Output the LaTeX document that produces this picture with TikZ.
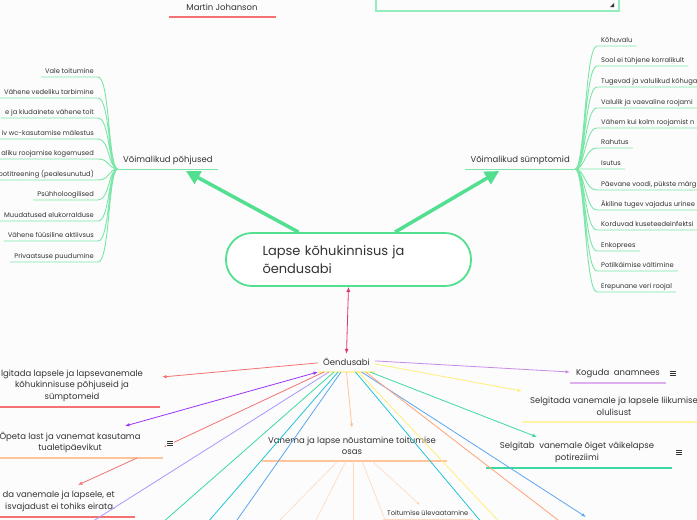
\documentclass[tikz,border=0pt]{standalone}
\usepackage{fontspec}
\setmainfont{Poppins}
\usepackage{tikz}
\usetikzlibrary{positioning}
\usetikzlibrary{arrows.meta}
\definecolor{bg}{HTML}{FCFCFC}
\definecolor{txt}{HTML}{333333}
\definecolor{mmgreen}{HTML}{52DF8F}
\definecolor{leafgreen}{HTML}{7BE6A8}
\definecolor{boxgreen}{HTML}{94EDBE}
\definecolor{crimson}{HTML}{E0336B}
\definecolor{salmon}{HTML}{F47272}
\definecolor{purple}{HTML}{9A35F5}
\definecolor{lilac}{HTML}{C98BEA}
\definecolor{lilacul}{HTML}{DDB0F2}
\definecolor{lavender}{HTML}{A898FF}
\definecolor{teal}{HTML}{3DD9A0}
\definecolor{cyan}{HTML}{22C4D6}
\definecolor{blue}{HTML}{5AA6F2}
\definecolor{yellowl}{HTML}{FFEF7A}
\definecolor{yellowul}{HTML}{FFF3A8}
\definecolor{orange}{HTML}{FFA477}
\definecolor{peach}{HTML}{FFC49A}
\definecolor{peachlight}{HTML}{FFD8BE}
\tikzset{%
  leaf/.style = {inner xsep=4pt,inner ysep=2pt,text depth=1.5pt,
        text=txt,font=\fontsize{6.7}{8}\selectfont},
  hub/.style = {inner xsep=5pt,inner ysep=4pt,text depth=2.5pt,
        text=txt,font=\fontsize{8.5}{11}\selectfont},
  topic/.style = {inner sep=0pt,align=center,text=txt,
        font=\fontsize{8.5}{11.5}\selectfont},
  leafline/.style = {draw=leafgreen,line width=0.9pt},
  bigarrow/.style = {-{Triangle[length=14pt,width=14pt]},draw=mmgreen,
        line width=3.5pt},
  conn/.style = {-{Latex[length=4.5pt,width=3.5pt]},line width=0.8pt},
  bare/.style = {line width=0.8pt},
  ul/.style = {line width=1.2pt},
  fan/.style = {draw=peachlight,line width=0.6pt},
  menuicon/.pic = {\fill[bg] (-4,-4) rectangle (4,4);
        \draw[line width=0.6pt,draw=txt] (-3,-2.2) -- (3,-2.2)
        (-3,0) -- (3,0) (-3,2.2) -- (3,2.2);}
}
\begin{document}
\begin{tikzpicture}[x=1pt,y=-1pt]
    \useasboundingbox (0,0) rectangle (697,520);
    \fill[bg] (0,0) rectangle (697,520);
    \clip (0,0) rectangle (697,520);

    % top
    \node[topic] (mj) at (222,7.5) {Martin Johanson};
    \draw[ul,draw=salmon] (169,17) -- (276,17);
    \draw[draw=boxgreen,line width=1.3pt] (376,-5) rectangle (619,11);
    \fill[txt] (614,3) -- (614,7) -- (610,7) -- cycle;

    % main topic
    \node[draw=mmgreen,line width=1.8pt,fill=white,rounded corners=26pt,
        minimum height=53pt,text width=172pt,inner xsep=36.5pt,align=left,
        text=txt,font=\fontsize{13}{18}\selectfont] (c) at (348.5,259.5)
        {Lapse kõhukinnisus ja\\õendusabi};

    % causes
    \node[hub,anchor=south west] (pohj) at (118,169) {Võimalikud põhjused};
    \draw[leafline] (pohj.south west) -- (pohj.south east);
    \draw[bigarrow] ([xshift=-50pt]c.north) -- ([xshift=18pt,yshift=-2pt]pohj.south);
    \node[leaf,anchor=south east] (p1) at (98,77) {Vale toitumine};
    \node[leaf,anchor=south east] (p2) at (98,98) {Vähene vedeliku tarbimine};
    \node[leaf,anchor=south east] (p3) at (98,118) {e ja kiudainete vähene toit};
    \node[leaf,anchor=south east] (p4) at (98,139) {iv wc-kasutamise mälestus};
    \node[leaf,anchor=south east] (p5) at (98,159) {aliku roojamise kogemused};
    \node[leaf,anchor=south east] (p6) at (98,180) {potitreening (pealesunutud)};
    \node[leaf,anchor=south east] (p7) at (98,200) {Psühholoogilised};
    \node[leaf,anchor=south east] (p8) at (98,221) {Muudatused elukorralduse};
    \node[leaf,anchor=south east] (p9) at (98,241) {Vähene füüsiline aktiivsus};
    \node[leaf,anchor=south east] (p10) at (98,262) {Privaatsuse puudumine};
    \draw[leafline]
        (pohj.south west) .. controls +(-10,0) and +(12,0) .. (p1.south east) -- (p1.south west)
        (pohj.south west) .. controls +(-10,0) and +(12,0) .. (p2.south east) -- (p2.south west)
        (pohj.south west) .. controls +(-10,0) and +(12,0) .. (p3.south east) -- (p3.south west)
        (pohj.south west) .. controls +(-10,0) and +(12,0) .. (p4.south east) -- (p4.south west)
        (pohj.south west) .. controls +(-10,0) and +(12,0) .. (p5.south east) -- (p5.south west)
        (pohj.south west) .. controls +(-10,0) and +(12,0) .. (p6.south east) -- (p6.south west)
        (pohj.south west) .. controls +(-10,0) and +(12,0) .. (p7.south east) -- (p7.south west)
        (pohj.south west) .. controls +(-10,0) and +(12,0) .. (p8.south east) -- (p8.south west)
        (pohj.south west) .. controls +(-10,0) and +(12,0) .. (p9.south east) -- (p9.south west)
        (pohj.south west) .. controls +(-10,0) and +(12,0) .. (p10.south east) -- (p10.south west);

    % symptoms
    \node[hub,anchor=south east] (symp) at (575,169) {Võimalikud sümptomid};
    \draw[leafline] (symp.south west) -- (symp.south east);
    \draw[bigarrow] ([xshift=46.5pt]c.north) -- ([xshift=-21pt,yshift=-2pt]symp.south);
    \node[leaf,anchor=south west] (s1) at (597,46) {Kõhuvalu};
    \node[leaf,anchor=south west] (s2) at (597,66) {Sool ei tühjene korralikult};
    \node[leaf,anchor=south west] (s3) at (597,87) {Tugevad ja valulikud kõhuga};
    \node[leaf,anchor=south west] (s4) at (597,108) {Valulik ja vaevaline roojami};
    \node[leaf,anchor=south west] (s5) at (597,128) {Vähem kui kolm roojamist n};
    \node[leaf,anchor=south west] (s6) at (597,148) {Rahutus};
    \node[leaf,anchor=south west] (s7) at (597,169) {Isutus};
    \node[leaf,anchor=south west] (s8) at (597,190) {Päevane voodi, pükste märg};
    \node[leaf,anchor=south west] (s9) at (597,210) {Äkiline tugev vajadus urinee};
    \node[leaf,anchor=south west] (s10) at (597,230) {Korduvad kuseteedeinfektsi};
    \node[leaf,anchor=south west] (s11) at (597,251) {Enkoprees};
    \node[leaf,anchor=south west] (s12) at (597,271) {Potilkäimise vältimine};
    \node[leaf,anchor=south west] (s13) at (597,292) {Erepunane veri roojal};
    \draw[leafline]
        (symp.south east) .. controls +(10,0) and +(-12,0) .. (s1.south west) -- (s1.south east)
        (symp.south east) .. controls +(10,0) and +(-12,0) .. (s2.south west) -- (s2.south east)
        (symp.south east) .. controls +(10,0) and +(-12,0) .. (s3.south west) -- (s3.south east)
        (symp.south east) .. controls +(10,0) and +(-12,0) .. (s4.south west) -- (s4.south east)
        (symp.south east) .. controls +(10,0) and +(-12,0) .. (s5.south west) -- (s5.south east)
        (symp.south east) .. controls +(10,0) and +(-12,0) .. (s6.south west) -- (s6.south east)
        (symp.south east) .. controls +(10,0) and +(-12,0) .. (s7.south west) -- (s7.south east)
        (symp.south east) .. controls +(10,0) and +(-12,0) .. (s8.south west) -- (s8.south east)
        (symp.south east) .. controls +(10,0) and +(-12,0) .. (s9.south west) -- (s9.south east)
        (symp.south east) .. controls +(10,0) and +(-12,0) .. (s10.south west) -- (s10.south east)
        (symp.south east) .. controls +(10,0) and +(-12,0) .. (s11.south west) -- (s11.south east)
        (symp.south east) .. controls +(10,0) and +(-12,0) .. (s12.south west) -- (s12.south east)
        (symp.south east) .. controls +(10,0) and +(-12,0) .. (s13.south west) -- (s13.south east);

    % nursing care
    \node[hub,anchor=south] (oe) at (346.5,372) {Õendusabi};
    \draw[ul,draw=yellowul] (oe.south west) -- (oe.south east);
    \draw[{Latex[length=5pt,width=4pt]}-{Latex[length=5pt,width=4pt]},
        draw=crimson,line width=0.8pt] (oe.north) -- (c.south);

    \node[topic] (sel1) at (72,385.5)
        {lgitada lapsele ja lapsevanemale\\kõhukinnisuse põhjuseid ja\\sümptomeid};
    \draw[ul,draw=salmon] (0,407) -- (160,407);
    \node[topic] (opeta) at (70,442.5)
        {Õpeta last ja vanemat kasutama\\tualetipäevikut};
    \draw[ul,draw=peach] (0,458) -- (163,458);
    \node[topic,anchor=east,align=right] (sel3) at (115,501.5)
        {da vanemale ja lapsele, et\\isvajadust ei tohiks eirata.};
    \draw[ul,draw=salmon] (0,517) -- (135,517);

    \node[topic] (kog) at (618,373) {Koguda~~anamnees};
    \draw[ul,draw=lilacul] (570,383) -- (666,383);
    \node[topic] (sel2) at (614,406.5)
        {Selgitada vanemale ja lapsele liikumise\\olulisust};
    \draw[ul,draw=yellowul] (522,422) -- (697,422);
    \node[topic] (selb) at (577,452.5)
        {Selgitab~~vanemale õiget väikelapse\\potireziimi};
    \draw[ul,draw=teal] (486,468) -- (672,468);

    \node[topic] (noust) at (352,446)
        {Vanema ja lapse nõustamine toitumise\\osas};
    \coordinate (nu) at (352,461);
    \draw[ul,draw=peach] ([xshift=-90pt]nu) -- ([xshift=95pt]nu);
    \node[leaf,anchor=south west] (toit) at (383,519.5) {Toitumise ülevaatamine};
    \draw[ul,draw=peachlight] (toit.south west) -- (toit.south east);

    % connector ends
    \coordinate (sel1-in) at (162,377);
    \coordinate (opeta-in) at (125,426);
    \coordinate (opeta-ic) at (164,447);
    \coordinate (opeta-out) at (137,458);
    \coordinate (sel3-in) at (78,485);
    \coordinate (kog-in) at (570,372);
    \coordinate (sel2-in) at (522,391);
    \coordinate (selb-in) at (537,437);
    \coordinate (noust-in) at (352,428);
    \coordinate (toit-in) at (420,505);
    \coordinate (down-in) at (586,517);
    \coordinate (lav-end) at (79,530);
    \coordinate (teal-end) at (154,530);
    \coordinate (cyan-end) at (201,530);
    \coordinate (blue-end) at (230,530);
    \coordinate (cyan2-end) at (488,530);
    \coordinate (yel2-end) at (507,530);
    \coordinate (ora2-end) at (571,530);

    % connectors from Õendusabi
    \draw[conn,draw=salmon] (oe.west) -- (sel1-in);
    \draw[{Latex[length=4.5pt,width=3.5pt]}-{Latex[length=4.5pt,width=3.5pt]},
        line width=0.8pt,draw=purple] (oe.south west) -- (opeta-in);
    \draw[conn,draw=salmon] ([xshift=6pt]oe.south west) -- (opeta-ic);
    \draw[conn,draw=salmon] (opeta-out) -- (sel3-in);
    \draw[bare,draw=lavender] ([xshift=11pt]oe.south west) -- (lav-end);
    \draw[bare,draw=teal] ([xshift=16pt]oe.south west) -- (teal-end);
    \draw[bare,draw=cyan] ([xshift=20pt]oe.south west) -- (cyan-end);
    \draw[bare,draw=blue] ([xshift=23pt]oe.south west) -- (blue-end);
    \draw[conn,draw=peach] (oe.south) -- (noust-in);
    \draw[bare,draw=cyan] ([xshift=9pt]oe.south) -- (cyan2-end);
    \draw[bare,draw=yellowl] ([xshift=12pt]oe.south) -- (yel2-end);
    \draw[conn,draw=blue] ([xshift=15pt]oe.south) -- (down-in);
    \draw[bare,draw=orange] ([xshift=19pt]oe.south) -- (ora2-end);
    \draw[conn,draw=teal] ([xshift=-5pt]oe.south east) -- (selb-in);
    \draw[conn,draw=yellowl] ([yshift=-1pt]oe.east) -- (sel2-in);
    \draw[conn,draw=lilac] ([yshift=2pt]oe.east) -- (kog-in);

    % nutrition fan
    \draw[fan] ([xshift=-14pt]nu) -- (270,530);
    \draw[fan] ([xshift=-6pt]nu) -- (311,530);
    \draw[fan] ([xshift=1pt]nu) -- (353,530);
    \draw[fan] ([xshift=10pt]nu) -- (389,530);
    \draw[fan,-{Latex[length=3.5pt,width=3pt]}] ([xshift=20pt]nu) -- (toit-in);

    % menu icons
    \pic at (170,443) {menuicon};
    \pic at (673,373) {menuicon};
    \pic at (679,452) {menuicon};
\end{tikzpicture}
\end{document}
